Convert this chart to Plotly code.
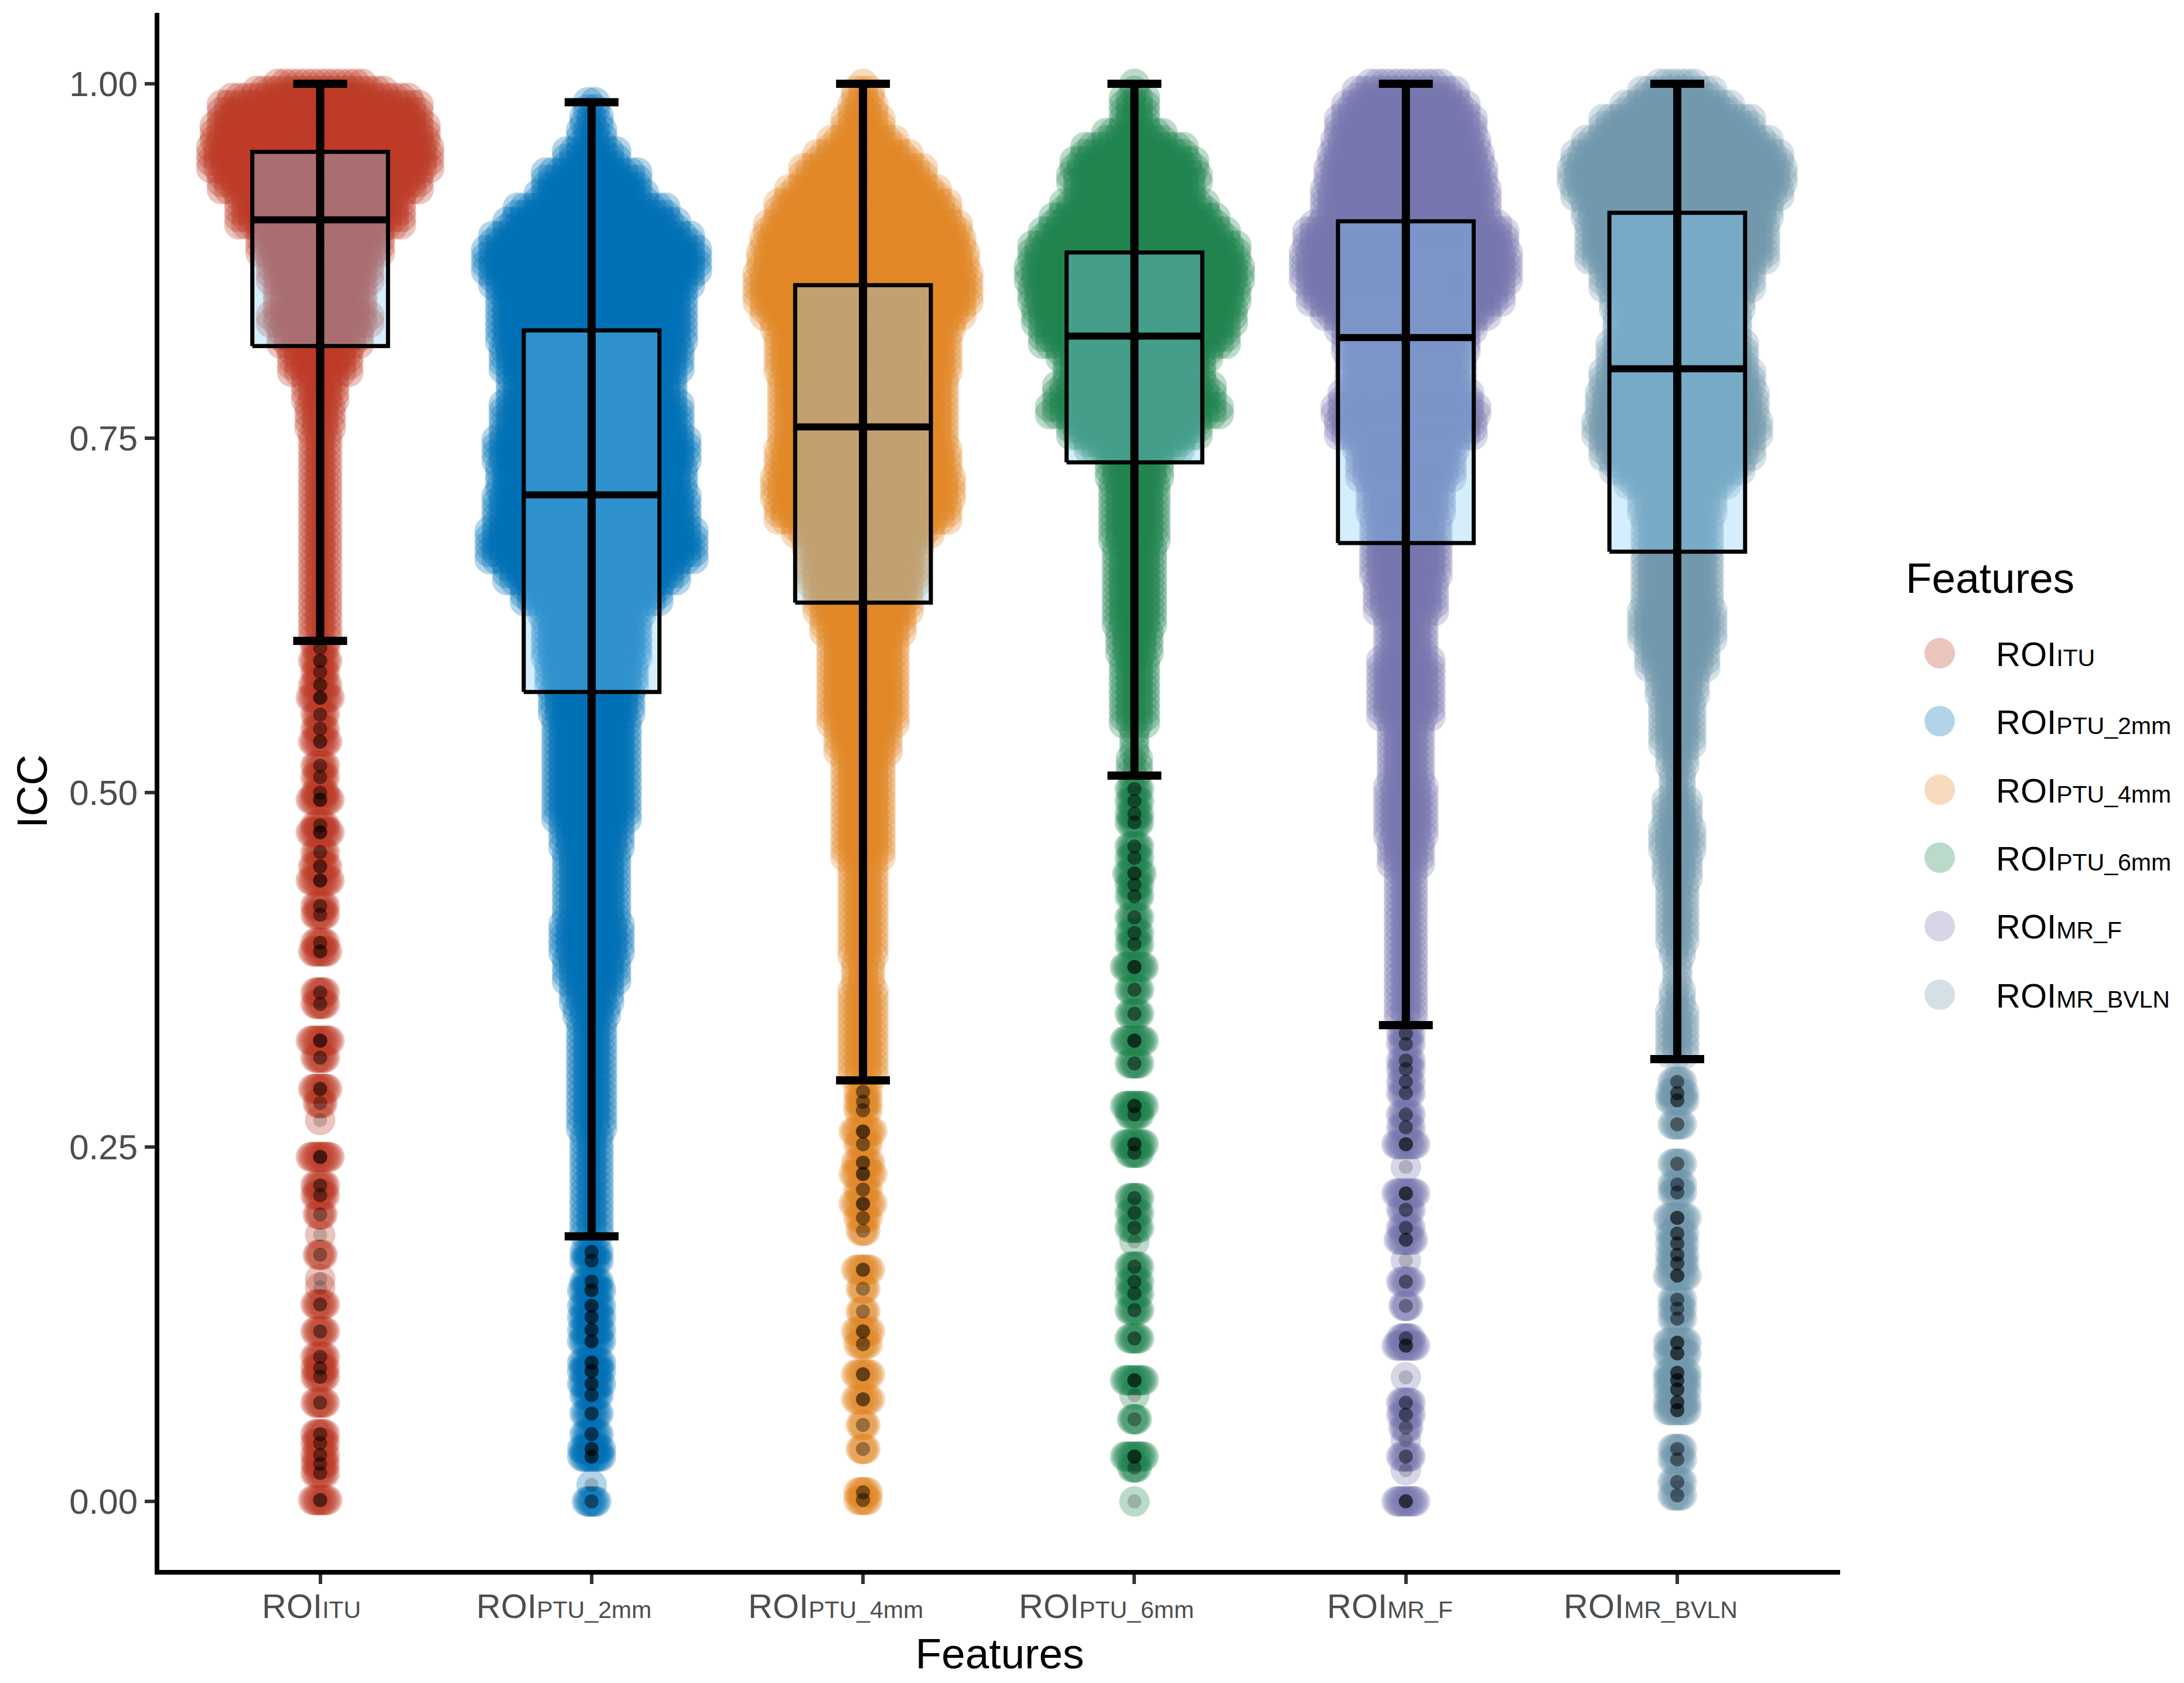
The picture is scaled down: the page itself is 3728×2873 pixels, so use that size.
import numpy as np
import plotly.graph_objects as go

# ---------- data ----------
features = ["ITU", "PTU_2mm", "PTU_4mm", "PTU_6mm", "MR_F", "MR_BVLN"]
colors = ["#BC3C29", "#0072B5", "#E18727", "#20854E", "#7876B1", "#6F99AD"]
tick_shift = [-15, -47, -47, -48, -27, -46]

# box statistics
whisk_hi = [1.000, 0.987, 1.000, 1.000, 1.000, 1.000]
q3       = [0.952, 0.826, 0.858, 0.881, 0.903, 0.909]
medians  = [0.904, 0.710, 0.758, 0.822, 0.821, 0.799]
q1       = [0.815, 0.571, 0.634, 0.733, 0.676, 0.670]
whisk_lo = [0.607, 0.187, 0.297, 0.512, 0.336, 0.312]

# dense part of each swarm: ICC level and number of points side by side there
ITU_levels = [1.0, .997, .993, .99, .985, .964, .947, .933, .911, .89, .869, .848, .833, .821, .806, .785, .764, .743, .72, .70, .68, .65, .62, .607]
ITU_counts = [13, 19, 24, 26, 29, 31, 32, 29, 24, 18, 15, 13, 15, 12, 9, 5, 4, 3, 3, 3, 3, 3, 3, 3]
P2_levels = [.987, .975, .964, .949, .932, .922, .911, .901, .89, .88, .869, .859, .848, .827, .806, .785, .764, .743, .72, .70, .67, .65, .64, .627, .615, .605, .583, .562, .54, .52, .498, .486, .467, .446, .425, .397, .376, .355, .347, .33, .294, .273, .252, .22, .2, .187]
P2_counts = [2, 3, 4, 8, 14, 16, 22, 25, 29, 31, 31, 29, 27, 27, 26, 24, 26, 28, 27, 28, 30, 25, 20, 15, 14, 14, 13, 12, 11, 11, 11, 11, 9, 8, 8, 9, 8, 6, 5, 4, 4, 4, 3, 3, 3, 3]
P4_levels = [1.0, .994, .982, .97, .958, .947, .935, .923, .911, .899, .887, .875, .864, .852, .84, .828, .816, .804, .78, .757, .733, .714, .698, .686, .674, .662, .631, .618, .604, .583, .557, .536, .515, .488, .465, .435, .414, .393, .372, .351, .33, .297]
P4_counts = [1, 3, 4, 6, 10, 14, 18, 22, 25, 28, 29, 30, 31, 31, 29, 26, 25, 25, 24, 24, 25, 26, 25, 20, 17, 16, 14, 12, 10, 10, 10, 8, 6, 6, 6, 4, 4, 4, 3, 4, 4, 4]
P6_levels = [1.0, .989, .973, .963, .954, .944, .932, .923, .913, .904, .892, .88, .863, .852, .837, .821, .809, .795, .78, .767, .757, .745, .73, .71, .686, .662, .629, .604, .583, .561, .536, .52, .512]
P6_counts = [1, 4, 4, 9, 15, 18, 19, 17, 21, 24, 27, 30, 31, 30, 29, 27, 22, 20, 23, 25, 19, 14, 8, 7, 7, 6, 6, 5, 4, 4, 1, 2, 2]
MF_levels = [1.0, .994, .982, .97, .958, .947, .935, .923, .911, .9, .892, .875, .864, .852, .84, .828, .816, .804, .79, .78, .769, .757, .745, .733, .709, .686, .662, .635, .614, .606, .583, .562, .54, .52, .498, .477, .456, .435, .414, .393, .372, .351, .336]
MF_counts = [11, 15, 18, 20, 21, 22, 23, 24, 24, 27, 29, 30, 30, 28, 24, 20, 18, 17, 17, 19, 21, 20, 15, 14, 11, 10, 10, 9, 6, 6, 8, 8, 5, 5, 6, 6, 5, 3, 3, 3, 3, 3, 3]
BV_levels = [1.0, .994, .982, .97, .958, .947, .937, .923, .911, .899, .882, .864, .847, .828, .809, .792, .776, .757, .74, .728, .718, .709, .686, .662, .646, .618, .593, .574, .562, .54, .52, .509, .488, .467, .445, .425, .403, .387, .374, .355, .34, .312]
BV_counts = [6, 11, 16, 22, 27, 30, 31, 30, 27, 26, 26, 22, 19, 18, 20, 22, 23, 24, 22, 19, 15, 11, 10, 10, 10, 11, 9, 6, 5, 5, 3, 2, 4, 5, 4, 3, 3, 2, 1, 2, 3, 3]
dense_levels = [ITU_levels, P2_levels, P4_levels, P6_levels, MF_levels, BV_levels]
dense_counts = [ITU_counts, P2_counts, P4_counts, P6_counts, MF_counts, BV_counts]

# sparse lower tail (box-plot outliers): ICC value and points sharing it
ITU_tail = [.602, .593, .585, .576, .567, .555, .545, .536, .519, .511, .4999, .495, .477, .472, .458, .448, .438, .420, .414, .394, .388, .359, .351, .325, .313, .291, .281, .269, .243, .223, .216, .2025, .188, .174, .157, .151, .139, .120, .102, .094, .088, .0697, .0475, .0412, .0328, .0265, .0201, .001]
ITU_tail_n = [3, 4, 3, 4, 5, 3, 3, 4, 3, 3, 3, 5, 3, 5, 3, 4, 5, 3, 3, 3, 4, 3, 3, 5, 3, 4, 2, 1, 5, 3, 3, 2, 1, 2, 1, 1, 3, 3, 3, 3, 3, 3, 3, 3, 3, 3, 3, 4]
P2_tail = [.176, .170, .155, .149, .138, .130, .121, .113, .098, .092, .083, .075, .062, .0475, .037, .0317, .0117, .0]
P2_tail_n = [4, 4, 4, 5, 5, 5, 5, 5, 5, 5, 5, 4, 4, 4, 5, 5, 1, 3]
P4_tail = [.289, .282, .276, .261, .252, .239, .231, .220, .21, .2, .191, .1635, .150, .134, .120, .111, .0897, .072, .054, .037, .0064, .0011]
P4_tail_n = [3, 3, 3, 5, 3, 4, 5, 3, 5, 3, 2, 4, 2, 2, 4, 3, 4, 4, 2, 2, 3, 3]
P6_tail = [.5025, .494, .485, .479, .462, .454, .443, .435, .427, .412, .401, .393, .377, .361, .344, .325, .309, .279, .273, .252, .246, .214, .2035, .193, .1835, .1656, .155, .1466, .135, .115, .0855, .075, .058, .0317, .024, .0]
P6_tail_n = [3, 3, 3, 3, 3, 3, 4, 3, 3, 3, 3, 3, 5, 3, 3, 5, 3, 5, 3, 5, 3, 3, 3, 3, 1, 3, 3, 3, 3, 3, 5, 1, 2, 5, 2, 1]
MF_tail = [.33, .3227, .311, .305, .296, .288, .273, .264, .252, .236, .2173, .2057, .193, .1846, .17, .155, .138, .115, .11, .0876, .0697, .0612, .052, .0433, .0317, .022, .0001]
MF_tail_n = [3, 3, 3, 3, 3, 3, 3, 3, 5, 1, 5, 3, 3, 4, 1, 3, 2, 3, 5, 1, 3, 3, 2, 1, 3, 1, 5]
BV_tail = [.296, .288, .283, .266, .2383, .2236, .218, .2, .189, .182, .174, .168, .1593, .1424, .136, .129, .112, .1045, .0907, .0855, .079, .07, .0644, .037, .0296, .0138, .0043]
BV_tail_n = [3, 4, 4, 3, 3, 3, 3, 5, 4, 4, 4, 4, 5, 3, 3, 3, 5, 5, 5, 5, 5, 5, 5, 3, 3, 3, 3]
tail_values = [ITU_tail, P2_tail, P4_tail, P6_tail, MF_tail, BV_tail]
tail_counts = [ITU_tail_n, P2_tail_n, P4_tail_n, P6_tail_n, MF_tail_n, BV_tail_n]

# ---------- layout constants ----------
W, H = 3728, 2873
L, R, T, B = 272, 3141, 22, 2680
XR = [0.4075, 6.6]
YR = [-0.0483, 1.05]
PX_X = (R - L) / (XR[1] - XR[0])
PX_Y = (B - T) / (YR[1] - YR[0])
DOT = 52
BOX_W = 0.5


def roi(sub, big, small):
    return f'<span style="font-size:{big}px">ROI</span><span style="font-size:{small}px">{sub}</span>'


def px_x(px):
    return (px - L) / (R - L)


def px_y(py):
    return (B - py) / (B - T)


def centred(n, step):
    return (np.arange(n) - (n - 1) / 2) * step


fig = go.Figure()

for i, name in enumerate(features):
    pos = i + 1
    lv = np.array(dense_levels[i])
    ct = dense_counts[i]
    xs, ys = [], []
    row_step = 12 / PX_Y
    col_step = 12 / PX_X
    for y in np.arange(lv[0], lv[-1] - 1e-9, -row_step):
        n = ct[int(np.argmin(np.abs(lv - y)))]
        xs.extend(pos + centred(n, col_step))
        ys.extend([y] * n)
    tail_step = 8 / PX_X
    dark_x, dark_y = [], []
    for v, n in zip(tail_values[i], tail_counts[i]):
        # each shared value is drawn as a tight stack across the swarm's width
        m = 1 if n == 1 else 2 * n
        span = (n - 1) * tail_step
        xs.extend(pos + np.linspace(-span / 2, span / 2, m))
        ys.extend([v] * m)
        dark_x.extend([pos] * n)
        dark_y.extend([v] * n)
    # swarm
    fig.add_trace(go.Scatter(x=xs, y=ys, mode="markers", name="ROI" + name, hoverinfo="skip",
                             marker=dict(size=DOT, color=colors[i], opacity=0.3, line=dict(width=0))))
    # outliers
    fig.add_trace(go.Scatter(x=dark_x, y=dark_y, mode="markers", hoverinfo="skip",
                             marker=dict(size=24, color="black", opacity=0.18, line=dict(width=0))))

for i in range(len(features)):
    pos = i + 1
    # box body
    fig.add_trace(go.Scatter(
        x=[pos - BOX_W / 2, pos + BOX_W / 2, pos + BOX_W / 2, pos - BOX_W / 2, pos - BOX_W / 2],
        y=[q1[i], q1[i], q3[i], q3[i], q1[i]], mode="lines", fill="toself",
        fillcolor="rgba(135,206,250,0.35)", line=dict(color="black", width=7), hoverinfo="skip"))
    # whiskers
    fig.add_trace(go.Scatter(
        x=[pos], y=[medians[i]], mode="markers", marker=dict(size=1, opacity=0), hoverinfo="skip",
        error_y=dict(type="data", symmetric=False, array=[whisk_hi[i] - medians[i]],
                     arrayminus=[medians[i] - whisk_lo[i]], color="black", thickness=14, width=46)))
    # median
    fig.add_trace(go.Scatter(x=[pos - BOX_W / 2, pos + BOX_W / 2], y=[medians[i]] * 2, mode="lines",
                             line=dict(color="black", width=12), hoverinfo="skip"))

annotations = []
for i, name in enumerate(features):
    annotations.append(dict(x=i + 1, xref="x", xshift=tick_shift[i], y=px_y(2741), yref="paper",
                            text=roi(name, 58, 41), showarrow=False, xanchor="center", yanchor="middle",
                            font=dict(family="Liberation Sans", color="#4D4D4D")))

# legend
shapes = []
legend_y = [1115, 1231, 1348, 1464, 1581, 1698]
for i, name in enumerate(features):
    shapes.append(dict(type="circle", xref="paper", yref="paper", xsizemode="pixel", ysizemode="pixel",
                       xanchor=px_x(3311), yanchor=px_y(legend_y[i]), x0=-26, x1=26, y0=-26, y1=26,
                       fillcolor=colors[i], opacity=0.3, line=dict(width=0)))
    annotations.append(dict(x=px_x(3405), xref="paper", y=px_y(legend_y[i] + 1), yref="paper",
                            text=roi(name, 58, 41), showarrow=False, xanchor="left", yanchor="middle",
                            font=dict(family="Liberation Sans", color="black")))
annotations.append(dict(x=px_x(3251), xref="paper", y=px_y(986), yref="paper", text="Features",
                        showarrow=False, xanchor="left", yanchor="middle",
                        font=dict(family="Liberation Sans", size=73, color="black")))

fig.update_layout(
    width=W, height=H, showlegend=False, plot_bgcolor="white", paper_bgcolor="white",
    margin=dict(l=L, r=W - R, t=T, b=H - B, pad=0),
    font=dict(family="Liberation Sans"),
    annotations=annotations, shapes=shapes,
    xaxis=dict(range=XR, tickmode="array", tickvals=list(range(1, 7)), showticklabels=False,
               ticks="outside", ticklen=16, tickwidth=6, tickcolor="#333333",
               showline=True, linecolor="black", linewidth=8, showgrid=False, zeroline=False,
               title=dict(text="Features", font=dict(size=73, color="black"), standoff=97)),
    yaxis=dict(range=YR, tickmode="array", tickvals=[0, .25, .5, .75, 1],
               ticktext=["0.00", "0.25", "0.50", "0.75", "1.00"],
               ticks="outside", ticklen=17, tickwidth=6, tickcolor="#333333",
               tickfont=dict(size=60, color="#4D4D4D"), ticklabelstandoff=0,
               showline=True, linecolor="black", linewidth=8, showgrid=False, zeroline=False,
               title=dict(text="ICC", font=dict(size=73, color="black"), standoff=17)),
)

fig.write_html("out.html", config={"displayModeBar": False},
               post_script="document.body.style.margin='0';")
